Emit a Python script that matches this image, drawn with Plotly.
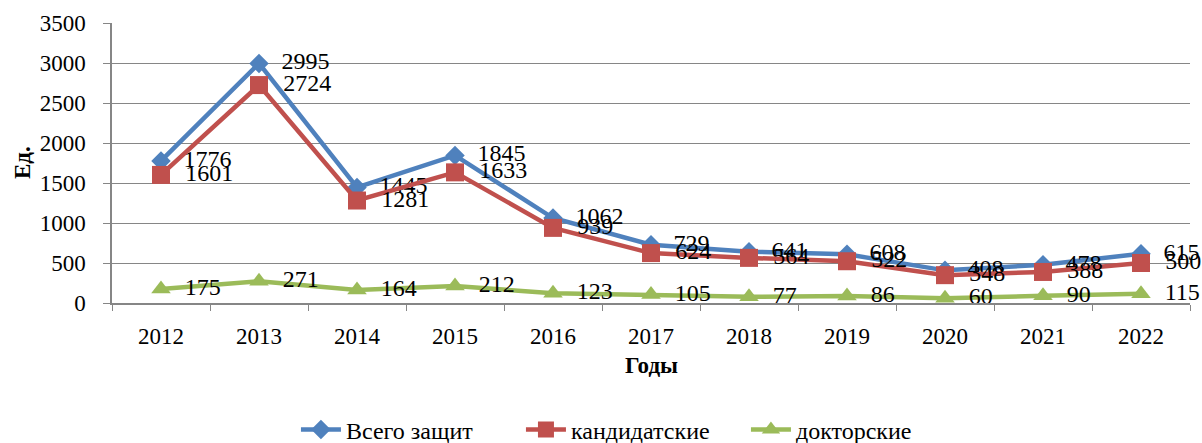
import plotly.graph_objects as go

years = ["2012", "2013", "2014", "2015", "2016", "2017", "2018", "2019", "2020", "2021", "2022"]
total = [1776, 2995, 1445, 1845, 1062, 729, 641, 608, 408, 478, 615]
cand = [1601, 2724, 1281, 1633, 939, 624, 564, 522, 348, 388, 500]
doct = [175, 271, 164, 212, 123, 105, 77, 86, 60, 90, 115]
y_ticks = [0, 500, 1000, 1500, 2000, 2500, 3000, 3500]

FONT = "Liberation Serif, Times New Roman, serif"
PAD = "\u00a0\u00a0"

fig = go.Figure()
series = [
    ("Всего защит", total, "#4F81BD", "diamond", 15),
    ("кандидатские", cand, "#C0504D", "square", 18),
    ("докторские", doct, "#9BBB59", "triangle-up", 17),
]
for name, vals, color, sym, size in series:
    fig.add_trace(go.Scatter(
        x=years, y=vals, name=name, mode="lines+markers+text",
        line=dict(color=color, width=4.5),
        marker=dict(symbol=sym, size=size, color=color),
        text=[PAD + str(v) for v in vals], textposition="middle right",
        textfont=dict(family=FONT, size=24, color="black"),
        cliponaxis=False,
    ))

fig.update_layout(
    width=1202, height=443,
    margin=dict(l=112, r=12, t=23, b=140, autoexpand=False),
    plot_bgcolor="white", paper_bgcolor="white",
    font=dict(family=FONT, size=23, color="black"),
    showlegend=True,
    legend=dict(orientation="h", x=0.527, xref="container", xanchor="center",
                y=(443 - 430) / 443, yref="container", yanchor="middle",
                font=dict(family=FONT, size=24), itemwidth=40, tracegroupgap=0,
                entrywidth=170, entrywidthmode="pixels"),
    xaxis=dict(type="category", range=[-0.5, 10.5], showgrid=False, automargin=False,
               showline=True, linecolor="#868686", linewidth=1.5,
               ticks="outside", tickson="boundaries", ticklen=6, tickcolor="#868686",
               ticklabelstandoff=12, tickfont=dict(size=23)),
    yaxis=dict(range=[0, 3500], tickvals=y_ticks, showgrid=True, gridcolor="#868686", gridwidth=1,
               showline=True, linecolor="#868686", linewidth=1.5, automargin=False,
               ticks="outside", ticklen=7, tickcolor="#868686", ticklabelstandoff=13,
               tickfont=dict(size=23), zeroline=False),
    annotations=[
        dict(text="<b>Годы</b>", x=0.5, xref="paper", y=-(365 - 303) / 280, yref="paper",
             yanchor="middle", showarrow=False, font=dict(family=FONT, size=23)),
        dict(text="<b>Ед.</b>", x=-(112 - 22) / 1078, xref="paper", xanchor="center",
             y=(303 - 163) / 280, yref="paper", yanchor="middle", showarrow=False,
             textangle=-90, font=dict(family=FONT, size=23)),
    ],
)

fig.write_html("out.html", config={"displayModeBar": False},
               post_script="document.body.style.margin='0';document.body.style.overflow='hidden';")
